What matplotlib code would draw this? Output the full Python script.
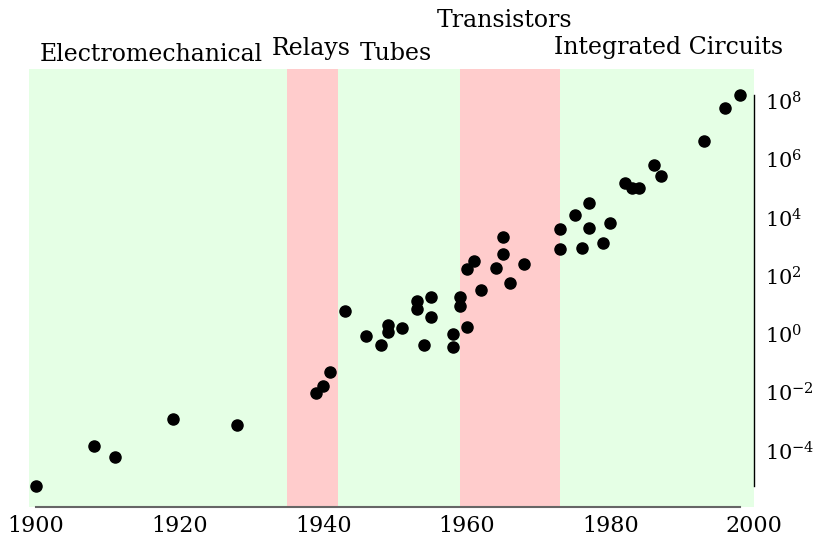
import numpy as np
import matplotlib
matplotlib.use("Agg")
import matplotlib.pyplot as plt
import matplotlib.transforms as mtransforms

plt.rcParams['font.family'] = ['DejaVu Serif']
plt.rcParams['mathtext.fontset'] = 'dejavuserif'

# --- data ---
years = [1900, 1908, 1911, 1919, 1928, 1939, 1940, 1941, 1943, 1946,
         1948, 1949, 1949, 1951, 1953, 1953, 1954, 1955, 1955, 1958,
         1958, 1959, 1959, 1960, 1960, 1961, 1962, 1964, 1965, 1965,
         1966, 1968, 1973, 1973, 1975, 1976, 1977, 1977, 1979, 1980,
         1982, 1983, 1984, 1986, 1987, 1993, 1996, 1998]
values = [6.3e-6, 1.4e-4, 6.3e-5, 1.2e-3, 7.8e-4, 9.8e-3, 0.016, 0.051, 6.2, 0.89,
          0.41, 2.0, 1.15, 1.6, 14, 7.1, 0.41, 19, 3.9, 1.0,
          0.36, 18, 9.5, 1.7, 170, 320, 33, 180, 2100, 550,
          56, 250, 3900, 830, 12000, 870, 31000, 4400, 1300, 6500,
          1.5e5, 1.0e5, 1.0e5, 6.3e5, 2.7e5, 4.2e6, 5.6e7, 1.6e8]

# technology eras (start, end, label, label year, label height in axes coords)
era_edges = [1899, 1935, 1942, 1959, 1973, 2000]
era_names = ['Electromechanical', 'Relays', 'Tubes', 'Transistors', 'Integrated Circuits']
era_label_x = [1916, 1938.3, 1950.1, 1965.2, 1988.1]
era_label_y = [1.019, 1.032, 1.021, 1.095, 1.034]
era_colors = ['#e5ffe5', '#ffcccc', '#e5ffe5', '#ffcccc', '#e5ffe5']

fig = plt.figure(figsize=(8.18, 5.38), dpi=100)
ax = fig.add_axes([29 / 818, 1 - 507 / 538, (754 - 29) / 818, (507 - 69) / 538])

for i, name in enumerate(era_names):
    ax.axvspan(era_edges[i], era_edges[i + 1], color=era_colors[i], lw=0, zorder=0)

trans = mtransforms.blended_transform_factory(ax.transData, ax.transAxes)
for name, lx, ly in zip(era_names, era_label_x, era_label_y):
    ax.text(lx, ly, name, transform=trans, ha='center', va='baseline',
            fontsize=17, color='black')

ax.plot(years, values, 'o', color='black', ms=8, zorder=3)

ax.set_yscale('log')
ax.set_xlim(era_edges[0], era_edges[-1])
ax.set_ylim(10 ** -5.93, 10 ** 9.09)

ax.yaxis.tick_right()
ax.set_yticks([1e-4, 1e-2, 1e0, 1e2, 1e4, 1e6, 1e8])
ax.yaxis.set_minor_locator(matplotlib.ticker.NullLocator())
ax.set_xticks([1900, 1920, 1940, 1960, 1980, 2000])
ax.tick_params(axis='y', length=0, pad=8, labelsize=15)
ax.tick_params(axis='x', length=0, pad=6, labelsize=16)

# range-frame spines
for s in ['top', 'left']:
    ax.spines[s].set_visible(False)
ax.spines['bottom'].set_color('#666666')
ax.spines['bottom'].set_linewidth(1.5)
ax.spines['bottom'].set_bounds(min(years), max(years))
ax.spines['right'].set_color('black')
ax.spines['right'].set_linewidth(1)
ax.spines['right'].set_bounds(min(values), max(values))

fig.savefig('out.png', dpi=100)
